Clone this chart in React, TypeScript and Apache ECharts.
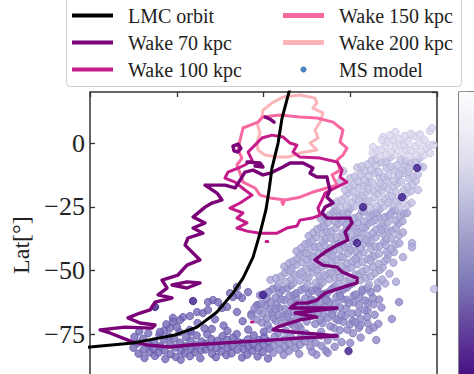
import React, { useEffect, useRef } from "react";
import * as echarts from "echarts";

// ---------- data (x: arbitrary longitude-like units 0..200, y: Lat in degrees) ----------
const latTicks = [0, -25, -50, -75];

const lmcOrbit = [
  [-5, -80.3], [0, -79.9], [24.8, -78.3], [33.4, -77.2], [49.0, -75.2], [61.7, -72.1],
  [73.2, -66.2], [82.4, -58.8], [88.2, -52.9], [94.0, -44.7], [98.0, -35.3], [101.4, -26.2],
  [103.2, -18.4], [104.9, -9.8], [108.4, 0], [110.7, 9.8], [114.7, 20.0], [116.4, 24.7],
];

const wake70Main = [
  [66.3, -16.5], [77.8, -16.5], [83.6, -17.6], [86.5, -14.5], [89.3, -11.4], [94.0, -10.6],
  [99.7, -12.5], [103.8, -11.8], [111.2, -9.4], [115.3, -7.8], [122.8, -7.8], [128.5, -9.8],
  [126.8, -11.8], [130.8, -13.3], [136.6, -13.3], [137.2, -15.3], [138.3, -18.4], [136.6, -21.2],
  [140.1, -23.5], [135.5, -25.1], [133.7, -27.4], [136.6, -29.4], [149.9, -29.4], [151.0, -31.3],
  [147.0, -34.9], [148.7, -38.0], [142.4, -40.0], [135.5, -42.7], [129.7, -45.8], [134.3, -47.8],
  [142.4, -48.6], [145.3, -50.5], [153.9, -52.9], [153.9, -54.8], [144.1, -56.8], [135.5, -58.8],
  [130.8, -61.5], [125.1, -62.7], [119.3, -62.7], [115.3, -64.6], [142.4, -64.6], [118.2, -66.6],
  [130.8, -68.2], [121.0, -69.3], [107.8, -72.1], [105.5, -73.2], [117.0, -74.0], [142.4, -75.6],
  [121.0, -76.4], [103.8, -77.2], [57.6, -79.1], [46.1, -79.9], [32.9, -79.1], [24.8, -78.0],
  [11.5, -74.4], [5.8, -73.2], [20.2, -72.1], [35.7, -72.5], [37.5, -71.3], [28.8, -70.5],
  [21.9, -68.5], [28.8, -66.6], [34.6, -65.4], [37.5, -62.3], [47.3, -60.7], [39.2, -59.5],
  [44.4, -56.8], [41.5, -53.7], [50.7, -51.7], [55.9, -47.8], [63.4, -45.8], [54.8, -40.0],
  [56.5, -37.2], [65.1, -35.3], [59.4, -33.3], [66.3, -31.3], [59.4, -29.0], [66.3, -25.1],
  [70.3, -23.5], [76.1, -22.3], [73.2, -19.6], [66.3, -16.5],
];
const wake70Ring = [[82.4, -1.2], [85.3, -0.4], [87.0, -2.0], [85.3, -3.5], [83.0, -3.1], [82.4, -1.2]];
const wake70Blob = [[100.9, 10.2], [103.8, 9.4], [106.1, 8.2]];
const wake70Diamond = [[47.3, -55.6], [55.9, -54.4], [63.4, -54.8], [55.9, -56.8], [47.3, -55.6]];
const wake70Seg = [[90.5, -7.4], [98.0, -7.8], [99.7, -9.4], [95.1, -9.0]];

const wake100Main = [
  [99.1, 2.0], [104.9, 3.1], [111.2, 2.4], [115.3, 0], [119.3, -0.8], [117.0, -3.5], [121.0, -5.5],
  [132.6, -5.9], [142.4, -7.4], [145.3, -10.6], [144.1, -13.3], [148.1, -15.3], [141.2, -17.6],
  [135.5, -19.6], [133.7, -22.3], [131.4, -25.5], [132.6, -28.2], [128.0, -29.4], [121.0, -30.2],
  [119.3, -32.5], [113.5, -33.3], [107.8, -35.3], [98.0, -35.3], [90.5, -34.5], [84.7, -33.3],
  [88.2, -32.1], [90.5, -31.3], [84.7, -29.4], [88.2, -27.4], [80.7, -25.5], [86.5, -23.5],
  [93.4, -20.4], [89.3, -18.4], [83.6, -15.3], [77.8, -13.7], [79.5, -11.4], [85.3, -9.8],
  [89.3, -8.6], [93.4, -6.7], [91.1, -3.5], [95.1, -0.8], [99.1, 2.0],
];
const wake100DotA = [[101.5, -38.6], [102.5, -38.6]];
const wake100DotB = [[93.0, -70.1], [94.0, -70.1]];

const wake150Main = [
  [88.2, 5.9], [96.8, 8.2], [99.7, 10.2], [109.5, 11.0], [121.0, 10.2], [130.8, 9.8], [140.1, 8.2],
  [145.8, 5.1], [144.1, 0.4], [148.1, -2.0], [145.8, -4.7], [142.4, -6.7], [144.1, -10.6],
  [139.5, -12.5], [142.4, -16.5], [136.6, -17.6], [128.5, -19.2], [121.0, -21.2], [112.4, -22.3],
  [103.8, -21.5], [98.0, -20.4], [95.1, -17.6], [88.2, -15.3], [86.5, -11.8], [84.7, -8.6],
  [87.6, -5.9], [85.3, -2.7], [86.5, 1.2], [88.2, 5.9],
];
const wake150Blob = [[110.6, -23.2], [111.8, -23.2], [111.2, -24.0], [110.6, -23.2]];

const wake200Main = [
  [99.7, 12.9], [104.9, 15.7], [111.2, 18.0], [121.0, 18.8], [129.7, 17.6], [130.8, 15.7],
  [128.5, 13.7], [134.3, 11.8], [132.6, 8.2], [129.7, 5.1], [131.4, 2.0], [126.8, 0],
  [130.8, -2.7], [121.0, -3.9], [114.1, -5.5], [107.8, -5.5], [100.9, -4.7], [96.8, -2.7],
  [96.3, 0.4], [98.0, 3.9], [96.3, 7.8], [99.1, 10.2], [99.7, 12.9],
];

// MS model particles, grouped by colour level (dark -> faint)
const msVeryDark = [
  [59.4, -61.9], [37.5, -64.2], [99.7, -59.5], [149, -81.5], [157.4, -25.1], [153.9, -39.2],
  [179.8, -21.2], [188.5, -9.8],
];
const msDark = [
  [25, -80.2], [25.6, -75.9], [28, -82.5], [27.5, -78.4], [28.4, -73.8], [31, -80.9], [30.6, -76.7],
  [31.4, -84.2], [34, -79], [34.5, -82], [33.6, -74.5], [37, -77.8], [36.5, -80.6], [37.4, -83.4],
  [40, -75.2], [40.5, -79.6], [39.6, -82.1], [43, -81.3], [42.5, -77], [43.4, -84.6], [42.8, -73.4],
  [46, -78.9], [46.5, -82.7], [45.6, -75.8], [49, -80.1], [48.6, -76.6], [49.4, -83.8], [52, -78.2],
  [52.5, -81.5], [51.6, -74.1], [52.3, -84.9], [55, -79.6], [55.4, -76], [54.6, -82.4], [58, -77.4],
  [58.5, -80.8], [57.6, -83.5], [58.2, -73.9], [61, -79.1], [61.5, -75.4], [60.6, -82], [64, -81.2],
  [64.4, -77.8], [63.6, -84.3], [67, -78.6], [67.5, -74.9], [66.6, -80.9], [70, -76.8], [70.4, -82.6],
  [69.6, -79.8], [70.2, -72.8], [73, -80.4], [73.5, -77.5], [72.6, -83.9], [76, -78.9], [76.4, -75.6],
  [75.6, -81.7], [79, -77.1], [79.5, -80.2], [78.6, -83.1], [79.2, -73.6], [82, -79.5], [82.4, -76.2],
  [81.6, -82.4], [85, -81], [85.5, -77.9], [84.6, -74.8], [88, -78.3], [88.4, -80.7], [87.6, -84],
  [91, -76.9], [91.5, -79.7], [90.6, -82.9], [91.2, -73.1], [94, -78.8], [94.4, -75.3], [93.6, -81.4],
  [97, -80.3], [97.5, -77.2], [96.6, -83.6], [100, -79], [100.4, -76], [99.6, -81.9], [100.2, -73.9],
  [103, -77.7], [103.5, -80.6], [102.6, -84.4],
  [68, -62.3], [70.9, -61.5], [47.8, -68.5], [53.6, -68.2], [57.6, -67.8], [61.7, -66.2],
  [65.1, -66.6], [76.1, -64.6], [79, -64.2], [84.7, -66.2], [87.6, -60.7], [91.1, -58.4],
  [85.3, -59.5], [96.3, -63.5], [47.8, -70.1], [50.1, -72.1], [57.6, -73.2], [82.4, -60.3],
  [84.7, -56.4], [73.8, -62.3], [80.7, -58.8], [68, -65.4], [51.9, -69.3], [46.1, -72.5],
  [40.3, -74], [62, -70.5], [72, -69], [88, -69.8], [93, -67], [77, -71.5], [44, -71], [66, -72.6],
];
const msMid = [
  [106, -79.3], [106.5, -75.8], [105.6, -82.2], [109, -78.1], [109.5, -81], [108.6, -74.4], [112, -76.9],
  [112.4, -79.9], [111.6, -83], [115, -78.6], [115.5, -75.2], [114.6, -81.5], [118, -77.4], [118.5, -80.3],
  [121, -79], [121.4, -76.1], [120.6, -82.6], [124, -77.8], [124.5, -74.6], [127, -80], [127.4, -76.7],
  [130, -78.2], [130.5, -82.9], [133, -75.4], [133.5, -79.5], [137, -77.3], [141, -79.8], [141.5, -75.9],
  [145, -78], [136, -81.4], [128, -81.8], [137, -82.2],
  [155, -72.4], [161, -73.3], [165, -77.2], [151.5, -74.5], [144, -73.3], [160, -70.6], [156, -76.2],
  [150, -78.3], [146, -70],
  [103.5, -72.8], [112.8, -73.5], [121.4, -72.6], [133.2, -73.9], [140.6, -72.4], [148.3, -73.1], [163.7, -72.2],
  [99, -70.3], [107, -69.6], [116, -70.8], [125, -69.9], [134, -70.5], [143, -69.4], [150, -71],
  [102.4, -71.3], [110.6, -70.7], [120.3, -71.6], [129.8, -70.9], [138.5, -71.8], [155.7, -71.4], [166.2, -70.8],
  [96.2, -69.1], [105.8, -68.4], [114.9, -69.5], [123.1, -68.2], [132.7, -69.3], [141.6, -68.8], [151.4, -69.6], [159.8, -68.1],
  [93, -67.7], [102, -68.6], [111, -67.9], [119, -68.9], [128, -67.4], [137, -68.5], [147, -67.8],
  [156, -68.9], [174, -68.9],
  [99.5, -66.8], [108.7, -67.4], [117.2, -66.3], [125.9, -67.6], [134.6, -66.9], [144.8, -67.2], [154.3, -66.5], [164.1, -67.3],
  [97, -65.6], [105, -66.5], [114, -66.9], [122, -65.3], [131, -66.4], [140, -65.8], [151, -66.8], [160, -65.5],
  [94.8, -64.7], [103.6, -65.3], [112.3, -64.9], [120.7, -65.6], [129.4, -64.5], [138.9, -65.2], [147.6, -64.8], [158.2, -65.4],
  [101, -63.7], [109, -64.6], [118, -63.4], [126, -64.9], [135, -63.9], [144, -64.3], [155, -63.5], [168, -64.4],
  [98.7, -62.9], [107.4, -63.3], [115.8, -62.6], [124.2, -63.5], [132.9, -62.8], [141.3, -63.1], [151.8, -62.4], [163.5, -63.2],
  [104, -62.4], [112, -61.5], [121, -62.8], [129, -61.7], [138, -62.2], [148, -61.4], [160, -62.6], [178.1, -62.3],
  [101.9, -60.8], [110.2, -61.2], [118.6, -60.5], [127.3, -61.4], [135.8, -60.7], [145.1, -61.1], [155.4, -60.4], [166.7, -61.3],
  [98, -59.6], [107, -60.5], [115, -59.8], [124, -60.9], [133, -59.4], [142, -60.3], [152, -59.7], [163, -60.6],
  [100.6, -59.2], [109.3, -58.6], [117.7, -59.4], [126.1, -58.7], [134.8, -59.1], [143.9, -58.5], [153.2, -59.3], [161.8, -58.4],
  [103, -58.3], [111, -57.5], [119, -58.8], [128, -57.9], [137, -58.6], [146, -57.4], [157, -58.1],
  [105.3, -57.2], [113.6, -56.8], [121.8, -57.5], [130.4, -56.9], [139.2, -57.3], [148.1, -56.6], [156.9, -57.4], [165.6, -56.9],
  [108, -56.4], [116, -55.6], [124, -56.8], [132, -55.9], [141, -56.2], [150, -55.4], [160, -56.7],
  [113.9, -68.1], [127.6, -63.2], [139.5, -67.1], [149.3, -62.7], [117.8, -71.9], [131.5, -58.3], [158.6, -61.7],
  [106.8, -65.0], [144.2, -59.9], [122.9, -67.0], [152.8, -70.2], [136.4, -61.6],
];
const msLight = [
  [108.6, -55.1], [117.3, -54.8], [125.4, -55.3], [134.2, -54.6], [142.9, -55.2], [151.6, -54.9], [160.8, -55.4], [170.2, -55.0],
  [104, -53.6], [113, -54.5], [121, -53.9], [130, -54.8], [138, -53.4], [147, -54.2], [156, -53.7], [166, -54.6],
  [176.4, -54.4],
  [107.2, -52.9], [116.1, -53.3], [124.5, -52.6], [132.8, -53.4], [141.4, -52.8], [149.7, -53.2], [158.9, -52.7], [168.4, -53.5],
  [110, -52.3], [118, -51.6], [126, -52.7], [135, -51.8], [144, -52.5], [153, -51.5], [162, -52.2],
  [112.5, -50.8], [120.8, -51.3], [128.6, -50.6], [137.4, -51.1], [146.2, -50.7], [155.1, -51.4], [164.3, -50.9], [172.6, -51.2],
  [114, -49.6], [122, -50.5], [131, -49.8], [139, -50.7], [148, -49.4], [157, -50.3], [167, -49.7],
  [116.3, -48.9], [124.7, -49.3], [133.5, -48.6], [141.8, -49.2], [150.6, -48.8], [159.4, -49.4], [168.7, -48.7],
  [112, -48.4], [119, -47.6], [128, -48.7], [136, -47.8], [145, -48.2], [154, -47.5], [163, -48.6], [180.4, -44.7],
  [114.8, -47.1], [122.4, -46.7], [130.9, -47.4], [139.6, -46.8], [148.3, -47.2], [157.2, -46.6], [166.5, -47.3], [174.9, -46.9],
  [117, -46.3], [125, -45.6], [133, -46.8], [142, -45.9], [151, -46.4], [160, -45.5], [170, -46.2],
  [119.6, -45.2], [127.8, -44.8], [136.1, -45.4], [144.7, -44.6], [153.4, -45.1], [162.2, -44.7], [171.3, -45.3],
  [121, -43.7], [129, -44.5], [138, -43.5], [146, -44.8], [155, -43.9], [164, -44.3], [172, -43.6],
  [123.4, -42.9], [131.6, -43.3], [140.2, -42.6], [148.8, -43.2], [157.7, -42.8], [166.6, -43.4], [175.2, -42.7],
  [119, -42.4], [127, -41.6], [135, -42.7], [144, -41.8], [153, -42.3], [162, -41.5], [171, -42.6],
  [121.7, -41.1], [129.9, -40.7], [138.4, -41.3], [147.1, -40.8], [155.9, -41.2], [164.8, -40.6], [173.6, -41.4],
  [124, -39.6], [132, -40.5], [141, -39.8], [149, -40.7], [158, -39.4], [167, -40.3], [176, -39.7],
  [185.6, -39.2], [185.6, -40.8],
  [126.2, -39.2], [134.4, -38.8], [143.3, -39.4], [151.7, -38.6], [160.6, -39.1], [169.5, -38.7], [178.3, -39.3],
  [128, -38.3], [136, -37.5], [145, -38.7], [153, -37.8], [162, -38.4], [171, -37.6],
  [130.5, -36.9], [138.8, -37.3], [147.4, -36.6], [155.9, -37.2], [164.7, -36.8], [173.8, -37.4],
  [126, -36.4], [134, -35.6], [142, -36.8], [151, -35.9], [160, -36.3], [169, -35.5], [178, -36.2],
  [128.7, -35.1], [136.9, -34.7], [145.5, -35.3], [154.2, -34.8], [163.1, -35.2], [171.9, -34.6], [180.4, -35.0],
  [131, -33.7], [139, -34.5], [148, -33.6], [156, -34.8], [165, -33.9], [174, -34.3],
  [133.4, -32.9], [141.6, -33.3], [150.3, -32.6], [158.6, -33.2], [167.4, -32.8], [176.3, -33.4],
  [135, -32.4], [143, -31.6], [152, -32.7], [160, -31.8], [169, -32.3], [178, -31.5],
  [137.2, -31.1], [145.4, -30.7], [154.1, -31.3], [162.7, -30.8], [171.5, -31.2], [180.1, -30.6],
  [133, -29.6], [141, -30.5], [149, -29.8], [158, -30.7], [167, -29.4], [176, -30.3],
  [135.6, -29.2], [143.8, -28.8], [152.4, -29.4], [161.2, -28.7], [169.8, -29.1], [178.6, -28.6],
  [138, -28.3], [146, -27.5], [155, -28.6], [163, -27.9], [172, -28.4], [181, -27.6],
  [140.3, -26.9], [148.5, -27.3], [156.8, -26.6], [165.2, -27.2], [174.1, -26.8], [182.7, -27.4],
  [142, -26.4], [150, -25.6], [158, -26.8], [167, -25.9], [176, -26.3],
  [115.5, -50.2], [127.2, -47.9], [139.8, -44.1], [150.2, -41.9], [159.1, -37.9], [167.9, -34.1],
  [146.7, -36.2], [135.3, -40.1], [124.6, -43.1], [157.3, -33.1], [170.6, -39.9], [161.8, -46.1],
  [143.1, -50.1], [132.1, -52.1], [152.9, -45.3], [164.4, -30.1], [147.8, -31.9], [173.2, -28.1],
];
const msPale = [
  [144.2, -25.1], [152.6, -24.7], [161.3, -25.3], [169.7, -24.6], [178.5, -25.2],
  [140, -23.7], [148, -24.5], [157, -23.6], [165, -24.8], [174, -23.9], [183, -24.3],
  [142.7, -22.9], [150.9, -23.3], [159.4, -22.6], [167.8, -23.2], [176.6, -22.8], [185.3, -23.4],
  [145, -22.4], [153, -21.6], [161, -22.7], [170, -21.8], [179, -22.3],
  [147.3, -21.1], [155.4, -20.7], [163.9, -21.3], [172.2, -20.8], [180.8, -21.2],
  [149, -19.6], [157, -20.5], [166, -19.8], [174, -20.7], [183, -19.4],
  [151.5, -18.9], [159.6, -19.3], [168.1, -18.6], [176.4, -19.2], [185.1, -18.8],
  [147, -18.3], [155, -17.5], [163, -18.6], [172, -17.8], [181, -18.4], [189.1, -18.4],
  [149.8, -17.1], [157.9, -16.7], [166.3, -17.3], [174.6, -16.8], [183.2, -17.2],
  [152, -16.4], [160, -15.6], [169, -16.8], [177, -15.9], [186, -16.3], [144, -15.2],
  [154.4, -14.9], [162.5, -15.3], [171.1, -14.6], [179.4, -15.2], [187.8, -14.8],
  [150, -13.7], [158, -14.5], [167, -13.6], [175, -14.8], [184, -13.9],
  [152.8, -13.1], [160.7, -12.7], [169.2, -13.3], [177.6, -12.8], [186.3, -13.2],
  [156, -12.4], [164, -11.6], [172, -12.7], [181, -11.8], [189, -12.3], [146, -11],
  [158.3, -10.9], [166.6, -11.3], [175.2, -10.6], [183.7, -11.2],
  [154, -9.6], [162, -10.5], [171, -9.8], [180, -10.7], [192, -9.4],
  [156.7, -9.1], [164.8, -8.7], [173.4, -9.3], [181.9, -8.8], [189.6, -9.2],
  [160, -8.3], [168, -7.5], [177, -8.6], [185, -7.8],
  [162.4, -6.9], [170.6, -7.3], [179.3, -6.6], [187.7, -7.2],
  [165, -6.4], [173, -5.6], [182, -6.8], [190, -5.9], [198.3, -57.2],
  [154.9, -22.1], [167.2, -15.9], [178.1, -12.1], [160.3, -17.9], [171.8, -23.4], [183.9, -9.9],
];
const msFaint = [
  [167.2, -5.1], [175.6, -4.7], [184.1, -5.3], [192.4, -4.8],
  [163, -3.7], [171, -4.5], [180, -3.6], [188, -4.8], [196, -3.9],
  [165.4, -2.9], [173.8, -3.3], [182.5, -2.6], [190.9, -3.2],
  [168, -2.4], [176, -1.6], [185, -2.7], [194, -1.8],
  [170.3, -1.1], [178.7, -0.7], [187.3, -1.3], [195.6, -0.8],
  [172, 0.4], [181, -0.5], [190, 0.2], [198, -0.7],
  [174.5, 1.1], [183.2, 0.7], [192.6, 1.3],
  [169, 2.3], [178, 1.6], [187, 2.7],
  [172.9, 3.1], [181.4, 2.8], [190.2, 3.4],
  [176, 4.3], [185, 3.6], [196, 4.8],
  [197.1, 5.9], [168.3, 1.2], [163.1, -1.6],
];

// ---------- styling ----------
const SERIF = "'Liberation Serif', 'DejaVu Serif', serif";
const INK = "#222";
const C70 = "#7a0177";
const C100 = "#c51b8a";
const C150 = "#f768a1";
const C200 = "#fbb4b9";
const purples = [
  "#fcfbfd", "#efedf5", "#dadaeb", "#bcbddc", "#9e9ac8", "#807dba", "#6a51a3", "#54278f", "#3f007d",
];

const msGroups: [number[][], string, string][] = [
  [msDark, "#776cb8", "#5b4fa3"],
  [msMid, "#928bc8", "#7770b6"],
  [msLight, "#aca8d6", "#928cc6"],
  [msPale, "#c3c1e2", "#a8a4d3"],
  [msFaint, "#dad9ed", "#c1bfe0"],
  [msVeryDark, "#3f1f8f", "#2a0f70"],
];

function lineSeries(name: string, data: number[][], color: string, width: number, z: number) {
  return {
    type: "line",
    name,
    data,
    xAxisIndex: 0,
    yAxisIndex: 0,
    symbol: "none",
    showSymbol: false,
    smooth: false,
    clip: true,
    z,
    silent: true,
    itemStyle: { color },
    lineStyle: { color, width, cap: "round", join: "round" },
  };
}

const cbMin = -1;
const cbMax = 6.29;

export default function App() {
  const ref = useRef<HTMLDivElement>(null);

  useEffect(() => {
    if (!ref.current) return;
    const chart = echarts.init(ref.current, null, { renderer: "svg" });

    const tickStyle = { show: true, inside: true, length: 5, lineStyle: { color: "#333", width: 1.3 } };
    const noLine = { show: false, onZero: false };

    const series: any[] = [];
    msGroups.forEach(([pts, fill, edge]) => {
      series.push({
        type: "scatter",
        name: "MS model",
        data: pts,
        xAxisIndex: 0,
        yAxisIndex: 0,
        symbolSize: 7.5,
        z: 2,
        silent: true,
        itemStyle: { color: fill, opacity: 0.82, borderColor: edge, borderWidth: 0.8 },
      });
    });
    series.push(lineSeries("Wake 200 kpc", wake200Main, C200, 3, 3));
    series.push(lineSeries("Wake 150 kpc", wake150Main, C150, 3, 3));
    series.push(lineSeries("Wake 150 kpc", wake150Blob, C150, 3, 3));
    series.push(lineSeries("Wake 100 kpc", wake100Main, C100, 3, 3));
    series.push(lineSeries("Wake 100 kpc", wake100DotA, C100, 3, 3));
    series.push(lineSeries("Wake 100 kpc", wake100DotB, C100, 3, 3));
    series.push(lineSeries("Wake 70 kpc", wake70Main, C70, 3.4, 3));
    series.push(lineSeries("Wake 70 kpc", wake70Ring, C70, 3.4, 3));
    series.push(lineSeries("Wake 70 kpc", wake70Blob, C70, 3.4, 3));
    series.push(lineSeries("Wake 70 kpc", wake70Diamond, C70, 3.4, 3));
    series.push(lineSeries("Wake 70 kpc", wake70Seg, C70, 3.4, 3));
    series.push(lineSeries("LMC orbit", lmcOrbit, "#000000", 3, 4));

    // colour bar
    series.push({
      type: "custom",
      xAxisIndex: 2,
      yAxisIndex: 2,
      silent: true,
      z: 2,
      data: [[0, 0]],
      renderItem: (_p: any, api: any) => {
        const tl = api.coord([0, cbMax]);
        const br = api.coord([1, cbMin]);
        return {
          type: "rect",
          shape: { x: tl[0], y: tl[1], width: br[0] - tl[0], height: br[1] - tl[1] },
          style: {
            fill: new echarts.graphic.LinearGradient(
              0, 0, 0, 1,
              purples.map((c, i) => ({ offset: i / (purples.length - 1), color: c }))
            ),
          },
        };
      },
    });

    const legendText = { fontFamily: SERIF, fontSize: 20, color: INK, lineHeight: 20, padding: [0, 0, 0, 10] };

    chart.setOption({
      animation: false,
      backgroundColor: "#ffffff",
      grid: [
        { left: 90, top: 92, width: 347, height: 306.3, show: true, borderColor: "#333", borderWidth: 1.5, backgroundColor: "transparent" },
        { left: 459, top: 92, width: 17, height: 299, show: true, borderColor: "#333", borderWidth: 1.2, backgroundColor: "transparent" },
      ],
      xAxis: [
        { type: "value", gridIndex: 0, position: "bottom", min: 0, max: 200, interval: 50, axisLine: noLine, axisTick: tickStyle, axisLabel: { show: false }, splitLine: { show: false } },
        { type: "value", gridIndex: 0, position: "top", min: 0, max: 200, interval: 50, axisLine: noLine, axisTick: tickStyle, axisLabel: { show: false }, splitLine: { show: false } },
        { type: "value", gridIndex: 1, min: 0, max: 1, show: false, axisLine: noLine },
      ],
      yAxis: [
        {
          type: "value", gridIndex: 0, position: "left", min: -100, max: 20, interval: 25,
          axisLine: noLine, axisTick: tickStyle, splitLine: { show: false },
          name: "Lat[°]", nameLocation: "middle", nameGap: 55,
          nameTextStyle: { fontFamily: SERIF, fontSize: 24, color: INK },
          axisLabel: {
            margin: 5, fontFamily: SERIF, fontSize: 26, color: INK, showMaxLabel: false,
            formatter: (v: number) => (latTicks.indexOf(v) >= 0 ? (v < 0 ? "\u2212" + Math.abs(v) : String(v)) : ""),
          },
        },
        { type: "value", gridIndex: 0, position: "right", min: -100, max: 20, interval: 25, axisLine: noLine, axisTick: tickStyle, axisLabel: { show: false }, splitLine: { show: false } },
        {
          type: "value", gridIndex: 1, position: "right", min: cbMin, max: cbMax, interval: 1,
          axisLine: noLine,
          axisTick: { show: true, inside: true, length: 6, lineStyle: { color: "#333", width: 1.3 } },
          axisLabel: { show: false },
          splitLine: { show: false },
        },
      ],
      legend: [
        {
          orient: "vertical", left: 72, top: 5.5, itemWidth: 41, itemHeight: 4, itemGap: 7, padding: 0,
          selectedMode: false, textStyle: legendText,
          data: [
            { name: "LMC orbit", icon: "rect" },
            { name: "Wake 70 kpc", icon: "rect" },
            { name: "Wake 100 kpc", icon: "rect" },
          ],
        },
        {
          orient: "vertical", left: 283, top: 5.5, itemWidth: 41, itemHeight: 5, itemGap: 7, padding: 0,
          selectedMode: false, textStyle: legendText,
          data: [
            { name: "Wake 150 kpc", icon: "rect" },
            { name: "Wake 200 kpc", icon: "rect" },
            { name: "MS model", icon: "circle", itemStyle: { color: "#4a8bd0", borderColor: "#2b5f9e", borderWidth: 1, opacity: 1 } },
          ],
        },
      ],
      graphic: [
        {
          type: "rect", z: 0, silent: true,
          shape: { x: 66.5, y: -10, width: 395, height: 96.5, r: 4 },
          style: { fill: "rgba(255,255,255,0.85)", stroke: "#cfcfcf", lineWidth: 1 },
        },
      ],
      series,
    });

    return () => chart.dispose();
  }, []);

  return (
    <div style={{ position: "fixed", left: 0, top: 0, width: 474, height: 374, overflow: "hidden", background: "#fff" }}>
      <div ref={ref} style={{ width: 474, height: 420 }} />
    </div>
  );
}
